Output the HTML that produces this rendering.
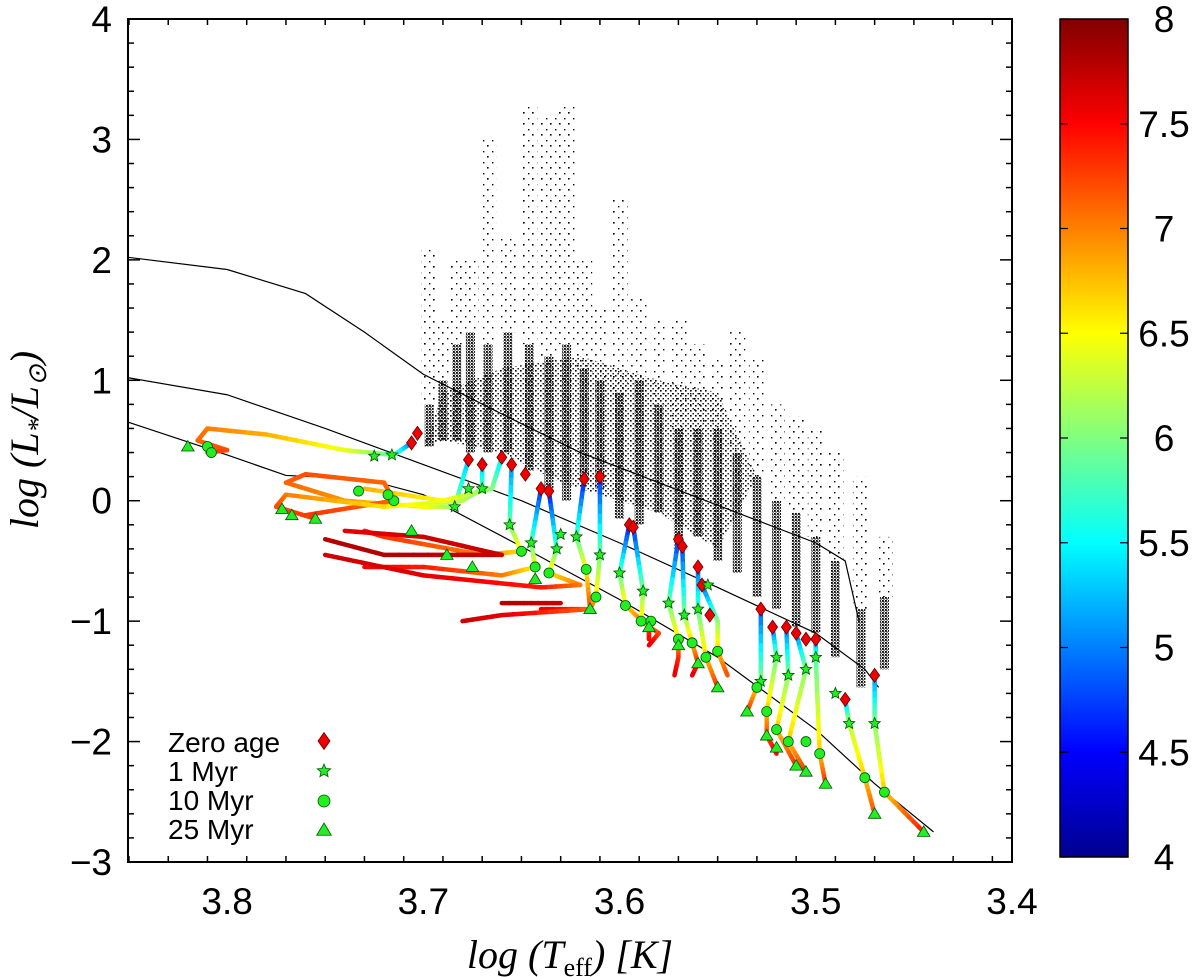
<!DOCTYPE html>
<html><head><meta charset="utf-8"><style>
html,body{margin:0;padding:0;background:#fff;}
svg{display:block;font-family:"Liberation Sans",sans-serif;}
</style></head><body>
<svg id="chart" width="1200" height="977" viewBox="0 0 1200 977" xmlns="http://www.w3.org/2000/svg">
<defs>
<linearGradient id="jet" x1="0" y1="1" x2="0" y2="0">
<stop offset="0" stop-color="#00008f"/><stop offset="0.125" stop-color="#0000ff"/><stop offset="0.375" stop-color="#00ffff"/><stop offset="0.625" stop-color="#ffff00"/><stop offset="0.875" stop-color="#ff0000"/><stop offset="1" stop-color="#800000"/>
</linearGradient>
<pattern id="dense" width="3" height="3" patternUnits="userSpaceOnUse"><rect x="0" y="0" width="1.8" height="1.8" fill="#000"/><rect x="1.5" y="1.5" width="1.2" height="1.2" fill="#000"/></pattern>
<pattern id="medium" width="5" height="5" patternUnits="userSpaceOnUse"><rect x="0" y="0" width="1.6" height="1.6" fill="#000"/><rect x="2.5" y="3" width="1.4" height="1.4" fill="#000"/></pattern>
<pattern id="sparse" width="9" height="11" patternUnits="userSpaceOnUse"><rect x="1" y="2" width="1.6" height="1.6" fill="#000"/><rect x="6" y="8" width="1.4" height="1.4" fill="#000"/></pattern>
<clipPath id="plotclip"><rect x="128" y="19" width="884" height="843"/></clipPath>
</defs>
<g id="plot" clip-path="url(#plotclip)"></g>
<g id="axes"></g>
<g id="legend"></g>
<g id="cbar"></g>
<text x="570" y="968" text-anchor="middle" font-family="Liberation Serif,serif" font-style="italic" font-size="40">log (T<tspan font-size="26" dy="8" font-style="normal">eff</tspan><tspan dy="-8">) [K]</tspan></text>
<text transform="translate(38,440) rotate(-90)" text-anchor="middle" font-family="Liberation Serif,serif" font-style="italic" font-size="40">log (L<tspan font-size="26" dy="8">*</tspan><tspan dy="-8">/L</tspan><tspan font-size="26" dy="8">⊙</tspan><tspan dy="-8">)</tspan></text>
</svg>
<script>
const xTicks=[3.8,3.7,3.6,3.5,3.4];
const yTicks=[4,3,2,1,0,-1,-2,-3];
const cbTicks=[4,4.5,5,5.5,6,6.5,7,7.5,8];
const iso1=[[3.85,2.02],[3.8,1.92],[3.76,1.72],[3.73,1.4],[3.7,1.05],[3.66,0.72],[3.62,0.4],[3.58,0.15],[3.54,-0.1],[3.5,-0.35],[3.485,-0.5],[3.478,-1.0]];
const iso2=[[3.85,1.02],[3.8,0.88],[3.75,0.6],[3.7,0.3],[3.65,0.0],[3.6,-0.35],[3.55,-0.72],[3.5,-1.1],[3.475,-1.4],[3.468,-1.55]];
const iso3=[[3.85,0.65],[3.8,0.38],[3.77,0.21],[3.73,0.18],[3.7,0.05],[3.65,-0.38],[3.6,-0.82],[3.55,-1.3],[3.5,-1.9],[3.47,-2.35],[3.44,-2.75]];
const cloudT=[3.7,3.69,3.66,3.63,3.6,3.58,3.55,3.53,3.55,3.58,3.62,3.66,3.69];
const cloudL=[0.45,0.5,0.4,0.15,0.0,-0.1,-0.4,0.2,0.9,1.0,1.2,1.1,0.9];
const streakT=[3.697,3.69,3.683,3.676,3.667,3.657,3.646,3.636,3.627,3.618,3.61,3.6,3.59,3.58,3.57,3.56,3.55,3.54,3.53,3.52,3.51,3.5,3.49,3.477,3.465];
const streakBot=[0.45,0.5,0.5,0.4,0.4,0.4,0.25,0.1,0.0,0.2,0.1,-0.15,-0.2,-0.1,-0.4,-0.3,-0.5,-0.6,-0.8,-0.9,-1.05,-1.1,-1.3,-1.55,-1.4];
const streakMid=[0.8,1.0,1.3,1.4,1.3,1.4,1.3,1.2,1.3,1.1,1.0,0.9,1.0,0.8,0.6,0.6,0.6,0.4,0.2,0.0,-0.1,-0.3,-0.5,-0.9,-0.8];
const streakTop=[2.1,1.5,2.0,2.0,3.0,2.2,3.3,3.2,3.3,2.0,1.6,2.5,1.7,1.5,1.5,1.3,1.2,1.4,1.2,0.8,0.7,0.6,0.4,0.2,-0.3];
const tracks=[
[[3.706,0.48,4.8],[3.715,0.38,5.8],[3.74,0.42,6.4],[3.78,0.55,6.8],[3.81,0.6,7.0],[3.815,0.5,7.1],[3.8,0.42,7.2],[3.81,0.4,7.3]],
[[3.677,0.34,5.2],[3.684,-0.05,6.0],[3.7,-0.05,6.5],[3.74,0.0,6.9],[3.77,0.15,7.1],[3.76,0.22,7.2],[3.72,0.15,7.1],[3.715,0.0,7.1],[3.76,-0.12,7.3]],
[[3.67,0.3,5.2],[3.67,0.1,5.8],[3.68,0.0,6.2],[3.72,-0.05,6.6],[3.77,0.05,7.0],[3.775,-0.05,7.2],[3.755,-0.15,7.3]],
[[3.66,0.36,5.3],[3.665,0.1,6.0],[3.69,0.0,6.5],[3.73,0.1,6.8]],
[[3.655,0.3,5.0],[3.656,-0.2,5.9],[3.65,-0.42,6.6],[3.67,-0.45,7.0],[3.72,-0.3,7.3],[3.73,-0.25,7.4]],
[[3.64,0.1,4.6],[3.645,-0.35,5.8],[3.643,-0.55,6.5],[3.66,-0.62,7.0],[3.7,-0.55,7.4],[3.73,-0.55,7.5]],
[[3.636,0.08,4.5],[3.632,-0.4,5.8],[3.636,-0.6,6.6],[3.62,-0.7,7.0],[3.64,-0.72,7.4],[3.7,-0.62,7.6],[3.75,-0.45,7.7]],
[[3.618,0.18,4.5],[3.622,-0.3,5.8],[3.617,-0.57,6.5],[3.615,-0.9,7.2],[3.64,-0.9,7.6]],
[[3.61,0.2,4.6],[3.61,-0.45,5.9],[3.612,-0.8,6.6],[3.615,-0.9,7.1],[3.66,-0.95,7.6],[3.68,-1.0,7.7]],
[[3.595,-0.2,4.5],[3.6,-0.6,5.8],[3.597,-0.87,6.6],[3.585,-1.05,7.2],[3.585,-1.15,7.5]],
[[3.593,-0.22,4.6],[3.588,-0.75,6.0],[3.589,-1.0,6.6],[3.58,-1.1,7.2],[3.585,-1.2,7.6]],
[[3.57,-0.32,4.6],[3.575,-0.85,5.9],[3.57,-1.15,6.6],[3.57,-1.3,7.3],[3.572,-1.45,7.6]],
[[3.568,-0.38,4.7],[3.567,-0.95,6.0],[3.563,-1.18,6.7],[3.56,-1.35,7.3],[3.563,-1.45,7.6]],
[[3.56,-0.55,4.8],[3.56,-0.9,5.8],[3.556,-1.3,6.7],[3.55,-1.55,7.3]],
[[3.558,-0.7,4.8],[3.55,-1.0,6.0],[3.55,-1.25,6.7],[3.545,-1.45,7.2]],
[[3.528,-0.9,4.8],[3.528,-1.5,6.0],[3.53,-1.55,6.6],[3.535,-1.75,7.3]],
[[3.522,-1.05,4.8],[3.52,-1.3,5.9],[3.525,-1.75,6.7],[3.525,-1.95,7.2],[3.52,-2.1,7.5]],
[[3.515,-1.05,4.9],[3.514,-1.45,6.0],[3.52,-1.9,6.7],[3.51,-2.2,7.3]],
[[3.51,-1.1,4.9],[3.505,-1.4,6.0],[3.514,-2.0,6.7],[3.505,-2.25,7.3]],
[[3.5,-1.15,4.8],[3.5,-1.3,5.8],[3.498,-2.1,6.7],[3.495,-2.35,7.3]],
[[3.485,-1.65,5.0],[3.483,-1.85,6.2],[3.475,-2.3,6.7],[3.47,-2.6,7.2]],
[[3.47,-1.45,5.0],[3.47,-1.85,6.0],[3.465,-2.42,6.7],[3.445,-2.75,7.4]],
[[3.74,-0.25,7.6],[3.7,-0.3,7.7],[3.66,-0.45,7.7],[3.72,-0.45,7.8],[3.75,-0.32,7.8]],
[[3.63,-0.85,7.7],[3.66,-0.85,7.8]]
];
const zeroAge=[[3.706,0.48],[3.703,0.56],[3.677,0.34],[3.67,0.3],[3.66,0.36],[3.655,0.3],[3.648,0.22],[3.64,0.1],[3.636,0.08],[3.618,0.18],[3.61,0.2],[3.595,-0.2],[3.593,-0.22],[3.57,-0.32],[3.568,-0.38],[3.56,-0.55],[3.558,-0.7],[3.554,-0.95],[3.528,-0.9],[3.522,-1.05],[3.515,-1.05],[3.51,-1.1],[3.505,-1.15],[3.5,-1.15],[3.485,-1.65],[3.47,-1.45]];
const myr1=[[3.725,0.37],[3.716,0.38],[3.684,-0.05],[3.677,0.1],[3.67,0.1],[3.656,-0.2],[3.645,-0.35],[3.632,-0.4],[3.63,-0.28],[3.622,-0.3],[3.61,-0.45],[3.6,-0.6],[3.588,-0.75],[3.575,-0.85],[3.567,-0.95],[3.56,-0.9],[3.555,-0.7],[3.528,-1.5],[3.52,-1.3],[3.514,-1.45],[3.505,-1.4],[3.5,-1.3],[3.49,-1.6],[3.483,-1.85],[3.47,-1.85]];
const myr10=[[3.81,0.45],[3.808,0.4],[3.733,0.08],[3.715,0.0],[3.718,0.05],[3.65,-0.42],[3.643,-0.55],[3.636,-0.6],[3.617,-0.57],[3.612,-0.8],[3.597,-0.87],[3.589,-1.0],[3.584,-1.0],[3.57,-1.15],[3.563,-1.18],[3.556,-1.3],[3.55,-1.25],[3.53,-1.55],[3.525,-1.75],[3.52,-1.9],[3.514,-2.0],[3.505,-2.0],[3.498,-2.1],[3.475,-2.3],[3.465,-2.42]];
const myr25=[[3.82,0.45],[3.772,-0.07],[3.767,-0.12],[3.755,-0.15],[3.706,-0.25],[3.688,-0.45],[3.675,-0.55],[3.643,-0.65],[3.615,-0.9],[3.585,-1.05],[3.57,-1.2],[3.56,-1.35],[3.55,-1.55],[3.535,-1.75],[3.525,-1.95],[3.52,-2.05],[3.51,-2.2],[3.505,-2.25],[3.495,-2.35],[3.47,-2.6],[3.445,-2.75]];

const NS="http://www.w3.org/2000/svg";
const X0=128,X1=1012,Y0=862,Y1=19;
const xMin=3.8505,xMax=3.4,yMin=-3,yMax=4;
function sx(v){return X0+(v-xMin)/(xMax-xMin)*(X1-X0);}
function sy(v){return Y0+(v-yMin)/(yMax-yMin)*(Y1-Y0);}
function mk(tag,attrs,parent){const e=document.createElementNS(NS,tag);for(const k in attrs)e.setAttribute(k,attrs[k]);parent.appendChild(e);return e;}
function jet(a){let t=(a-4)/4;t=Math.max(0,Math.min(1,t));
 const r=Math.max(0,Math.min(1,1.5-Math.abs(4*t-3))),g=Math.max(0,Math.min(1,1.5-Math.abs(4*t-2))),b=Math.max(0,Math.min(1,1.5-Math.abs(4*t-1)));
 return `rgb(${Math.round(r*255)},${Math.round(g*255)},${Math.round(b*255)})`;}
const plot=document.getElementById('plot'),axes=document.getElementById('axes');

// scatter
const sg=mk('g',{},plot);


const cl=mk('polygon',{points:cloudT.map((t,i)=>sx(t)+','+sy(cloudL[i])).join(' '),fill:'url(#medium)','stroke':'none'},sg);


streakT.forEach((t,i)=>{
 const l1=mk('line',{x1:sx(t),x2:sx(t),y1:sy(streakMid[i]),y2:sy(streakTop[i]),stroke:'url(#sparse)','stroke-width':16},sg);
 
 
 const l2=mk('line',{x1:sx(t),x2:sx(t),y1:sy(streakBot[i]),y2:sy(streakMid[i]),stroke:'url(#dense)','stroke-width':9},sg);
 
 
});
// isochrones
[iso1,iso2,iso3].forEach((iso,k)=>{
 const p=mk('polyline',{points:iso.map(d=>sx(d[0])+','+sy(d[1])).join(' '),fill:'none',stroke:'#000','stroke-width':1.2},plot);
 
 
});
// tracks
tracks.forEach((tr,k)=>{
 const g=mk('g',{},plot);
 
 
 for(let i=0;i<tr.length-1;i++){const a=tr[i],b=tr[i+1];const n=8;
  for(let j=0;j<n;j++){const f0=j/n,f1=(j+1)/n;
   mk('line',{x1:sx(a[0]+(b[0]-a[0])*f0),y1:sy(a[1]+(b[1]-a[1])*f0),x2:sx(a[0]+(b[0]-a[0])*f1),y2:sy(a[1]+(b[1]-a[1])*f1),stroke:jet(a[2]+(b[2]-a[2])*(f0+f1)/2),'stroke-width':4.5,'stroke-linecap':'round'},g);}}
});
// markers
function diamond(x,y,p,s){return mk('polygon',{points:`${x},${y-s*1.4} ${x+s},${y} ${x},${y+s*1.4} ${x-s},${y}`,fill:'#e00',stroke:'#600','stroke-width':0.8},p);}
function star(x,y,p,r){let pts=[];for(let i=0;i<10;i++){const rr=i%2?r*0.45:r;const a=-Math.PI/2+i*Math.PI/5;pts.push((x+rr*Math.cos(a)).toFixed(1)+','+(y+rr*Math.sin(a)).toFixed(1));}return mk('polygon',{points:pts.join(' '),fill:'#2e2',stroke:'#050','stroke-width':0.8},p);}
function circ(x,y,p,r){return mk('circle',{cx:x,cy:y,r:r,fill:'#2e2',stroke:'#050','stroke-width':0.8},p);}
function tri(x,y,p,s){return mk('polygon',{points:`${x},${y-s} ${x+s*1.05},${y+s*0.75} ${x-s*1.05},${y+s*0.75}`,fill:'#2e2',stroke:'#050','stroke-width':0.8},p);}
zeroAge.forEach(d=>{const e=diamond(sx(d[0]),sy(d[1]),plot,5);});
myr1.forEach(d=>{const e=star(sx(d[0]),sy(d[1]),plot,6);});
myr10.forEach(d=>{const e=circ(sx(d[0]),sy(d[1]),plot,5);});
myr25.forEach(d=>{const e=tri(sx(d[0]),sy(d[1]),plot,6);});

// axes frame
const fr=mk('rect',{x:X0,y:Y1,width:X1-X0,height:Y0-Y1,fill:'none',stroke:'#000','stroke-width':2},axes);


for(let v=3.85;v>=3.4-1e-9;v-=0.02){const x=sx(v);const major=Math.abs(v*10-Math.round(v*10))<1e-6;const L=major?12:6;
 mk('line',{x1:x,x2:x,y1:Y0,y2:Y0-L,stroke:'#000','stroke-width':1.5},axes);mk('line',{x1:x,x2:x,y1:Y1,y2:Y1+L,stroke:'#000','stroke-width':1.5},axes);}
for(let v=-3;v<=4+1e-9;v+=0.2){const y=sy(v);const major=Math.abs(v-Math.round(v))<1e-6;const L=major?12:6;
 mk('line',{x1:X0,x2:X0+L,y1:y,y2:y,stroke:'#000','stroke-width':1.5},axes);mk('line',{x1:X1,x2:X1-L,y1:y,y2:y,stroke:'#000','stroke-width':1.5},axes);}
xTicks.forEach(v=>{const t=mk('text',{x:sx(v),y:914,'text-anchor':'middle','font-size':37},axes);t.textContent=v.toFixed(1);});
yTicks.forEach(v=>{const t=mk('text',{x:112,y:sy(v)+13,'text-anchor':'end','font-size':37},axes);t.textContent=(v<0?'−'+(-v):v);});

// legend
const lg=document.getElementById('legend');
const labels=['Zero age','1  Myr','10 Myr','25 Myr'];
labels.forEach((s,i)=>{const y=742+i*29;const t=mk('text',{x:168,y:y+10,'font-size':28},lg);t.textContent=s;});
diamond(324,741,lg,6);star(324,771,lg,7);circ(324,801,lg,6);tri(324,830,lg,7);

// colorbar
const cb=document.getElementById('cbar');
const CX=1060,CW=68,CY0=857,CY1=19;
mk('rect',{x:CX,y:CY1,width:CW,height:CY0-CY1,fill:'url(#jet)',stroke:'#000','stroke-width':1.5},cb);
cbTicks.forEach(v=>{const y=CY0-(v-4)/4*(CY0-CY1);
 mk('line',{x1:CX,x2:CX+8,y1:y,y2:y,stroke:'#000','stroke-width':1.2},cb);mk('line',{x1:CX+CW,x2:CX+CW-8,y1:y,y2:y,stroke:'#000','stroke-width':1.2},cb);
 const t=mk('text',{x:1164,y:y+13,'text-anchor':'middle','font-size':37},cb);t.textContent=String(v);});
</script>
</body></html>
